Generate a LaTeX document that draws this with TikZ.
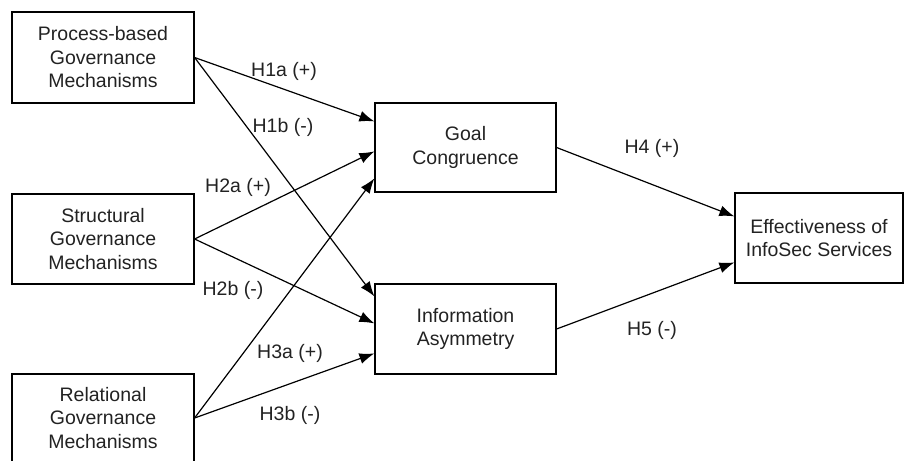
\documentclass[tikz,border=0pt]{standalone}
\usepackage{fontspec}
\setmainfont{Liberation Sans}
\usetikzlibrary{arrows.meta, calc}

\definecolor{txtgray}{RGB}{34,34,34}

\tikzset{
  box/.style={draw, line width=1.2pt, align=center, inner sep=0pt,
    text=txtgray, font=\fontsize{19.5}{23.5}\selectfont},
  hyp/.style={text=txtgray, font=\fontsize{19.5}{22}\selectfont, inner sep=1pt},
  link/.style={line width=1.2pt, -{Latex[length=15pt,width=11pt]}}
}

\begin{document}
\begin{tikzpicture}[x=1pt, y=-1pt]
  \useasboundingbox (0,0) rectangle (906,461);

  \node[box, minimum width=182pt, minimum height=91pt] (proc) at (103,57.5) {Process-based\\Governance\\Mechanisms};
  \node[box, minimum width=182pt, minimum height=90pt] (struc) at (103,239) {Structural\\Governance\\Mechanisms};
  \node[box, minimum width=182pt, minimum height=88pt] (rel) at (103,418) {Relational\\Governance\\Mechanisms};
  \node[box, minimum width=181pt, minimum height=89pt] (goal) at (465.5,147.5) {Goal\\Congruence};
  \node[box, minimum width=181pt, minimum height=90pt] (info) at (465.5,329) {Information\\Asymmetry};
  \node[box, minimum width=168pt, minimum height=90pt] (eff) at (819,238) {Effectiveness of\\InfoSec Services};

  \coordinate (g1) at ($(goal.north west)+(0,19)$);
  \coordinate (g2) at ($(goal.north west)+(0,49)$);
  \coordinate (g3) at ($(goal.north west)+(0,76)$);
  \coordinate (i1) at ($(info.north west)+(0,13)$);
  \coordinate (i2) at ($(info.north west)+(0,40)$);
  \coordinate (i3) at ($(info.north west)+(0,70)$);
  \coordinate (e1) at ($(eff.north west)+(0,24)$);
  \coordinate (e2) at ($(eff.north west)+(0,70)$);

  \draw[link] (proc.east) -- (g1);
  \draw[link] (proc.east) -- (i1);
  \draw[link] (struc.east) -- (g2);
  \draw[link] (struc.east) -- (i2);
  \draw[link] (rel.east) -- (g3);
  \draw[link] (rel.east) -- (i3);
  \draw[link] (goal.east) -- (e1);
  \draw[link] (info.east) -- (e2);

  \node[hyp] (h1a) at (284,71) {H1a (+)};
  \node[hyp] (h1b) at (283,127) {H1b (-)};
  \node[hyp] (h2a) at (238,187) {H2a (+)};
  \node[hyp] (h2b) at (233,290) {H2b (-)};
  \node[hyp] (h3a) at (290,353) {H3a (+)};
  \node[hyp] (h3b) at (290,415) {H3b (-)};
  \node[hyp] (h4) at (652,148) {H4 (+)};
  \node[hyp] (h5) at (652,330) {H5 (-)};
\end{tikzpicture}
\end{document}
